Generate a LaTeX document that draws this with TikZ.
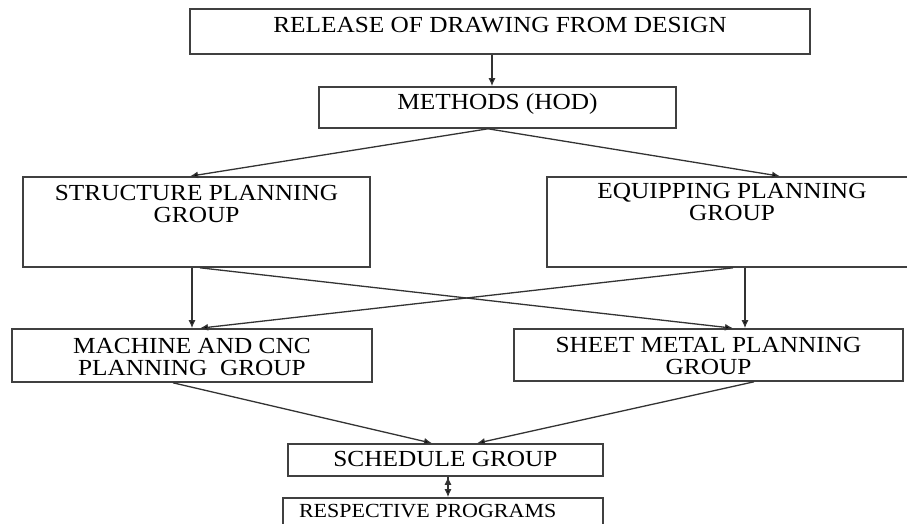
\documentclass[tikz,border=0pt]{standalone}
\usepackage{fontspec}
\setmainfont{Liberation Serif}[FakeStretch=1.1]
\usetikzlibrary{arrows.meta}
\begin{document}
\begin{tikzpicture}[x=1pt,y=-1pt]
    % Setup the style for the boxes and arrows
        \tikzset{box style/.style={rectangle,
                                   draw=black!75,
                                   line width=1.6pt,
                                   inner sep=0pt,
                                   font=\fontsize{23}{22}\selectfont},
                 link style/.style={-{Latex[length=8pt,width=7pt]},
                                    line width=1.3pt,
                                    draw=black!80}}
        \useasboundingbox (0,0) rectangle (907,524);
        % Draw the boxes
        \node[box style] at (500, 31.5)   (release) {\parbox[c][45pt][t]{620pt}{\centering\vspace{8.5pt}RELEASE OF DRAWING FROM DESIGN}};
        \node[box style] at (497.5, 107.5) (methods) {\parbox[c][41pt][t]{357pt}{\centering\vspace{6.5pt}METHODS (HOD)}};
        \node[box style] at (196.5, 222)  (struct) {\parbox[c][90pt][t]{347pt}{\centering\vspace{8.5pt}STRUCTURE PLANNING\\GROUP}};
        \node[box style] at (732, 222)    (equip) {\parbox[c][90pt][t]{370pt}{\centering\vspace{6.5pt}EQUIPPING PLANNING\\GROUP}};
        \node[box style] at (192, 355.5)  (machine) {\parbox[c][53pt][t]{360pt}{\centering\vspace{9.5pt}MACHINE AND CNC\\PLANNING\ \ GROUP}};
        \node[box style] at (708.5, 355)  (sheet) {\parbox[c][52pt][t]{389pt}{\centering\vspace{8.5pt}SHEET METAL PLANNING\\GROUP}};
        \node[box style] at (445.5, 460)  (schedule) {\parbox[c][32pt][t]{315pt}{\centering\vspace{7.5pt}SCHEDULE GROUP}};
        \node[box style, font=\fontsize{20}{22}\selectfont] at (443, 518) (programs) {\parbox[c][40pt][t]{320pt}{\raggedright\vspace{6.5pt}\hspace*{16pt}RESPECTIVE PROGRAMS}};
        % Connect the boxes with arrows
        \path[link style]
        ([xshift=-8pt]release.south) edge ([xshift=-5.5pt]methods.north)
        ([xshift=-9.5pt]methods.south) edge ([xshift=-6.5pt]struct.north)
        ([xshift=-9.5pt]methods.south) edge ([xshift=48pt]equip.north)
        ([xshift=-4.5pt]struct.south) edge (machine.north)
        ([xshift=3.5pt]struct.south) edge ([xshift=24.5pt]sheet.north)
        ([xshift=1pt]equip.south) edge ([xshift=8pt]machine.north)
        ([xshift=13pt]equip.south) edge ([xshift=36.5pt]sheet.north)
        ([xshift=-19pt]machine.south) edge ([xshift=-13.5pt]schedule.north)
        ([xshift=45.5pt]sheet.south) edge ([xshift=31.5pt]schedule.north)
        ([xshift=2.5pt]schedule.south) edge ([xshift=5pt]programs.north);
\end{tikzpicture}
\end{document}
